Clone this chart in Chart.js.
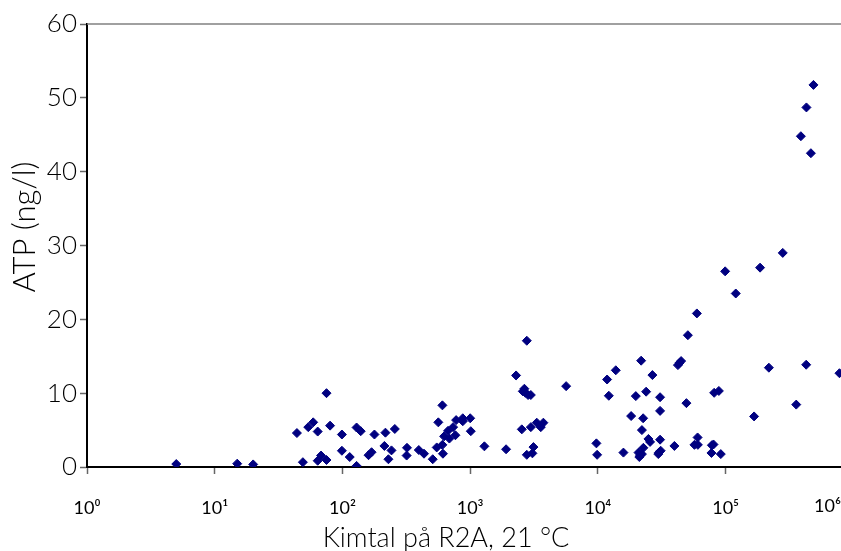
<!DOCTYPE html>
<html>
<head>
<meta charset="utf-8">
<title>ATP mot kimtal</title>
<script src="https://cdn.jsdelivr.net/npm/chart.js@4/dist/chart.umd.min.js"></script>
<style>
  html, body { margin: 0; padding: 0; background: #fff; overflow: hidden; }
  canvas { display: block; }
</style>
</head>
<body>
<canvas id="chart" width="841" height="551"></canvas>
<script>
// kimtal (cfu/ml) and ATP (ng/l) per sample
var kimtal = [
    5, 15, 20, 44, 49, 54, 59, 64, 64, 68,
    75, 75, 80, 99, 99, 114, 129, 129, 139, 160,
    169, 178, 217, 213, 229, 242, 257, 320, 318, 396,
    435, 509, 547, 563, 606, 606, 612, 625, 671, 687,
    735, 766, 776, 875, 875, 1000, 1011, 1292, 1910, 2287,
    2775, 2656, 2581, 2706, 2840, 2984, 2535, 2984, 3128, 2775,
    3069, 3320, 3570, 3740, 5640,
    9730, 9860, 11800, 12170, 13800, 15840, 18200, 19800, 21800, 22100,
    22600, 23850, 20800, 21400, 22100, 21100, 22700, 24850, 25600, 26700,
    30670, 30670, 30670, 30000, 31000, 29700, 39700, 42300, 43500, 44800,
    49300, 50600, 59500, 57000, 60600, 60300, 77400, 78000, 80300, 91600,
    81300, 88500,
    99100, 120000, 167000, 186000, 218000, 280000, 357000, 388000, 427000, 429000,
    465000, 487000, 778000
];
var atp = [
    0.4, 0.45, 0.35, 4.6, 0.65, 5.4, 6.05, 4.8, 0.85, 1.55,
    10.0, 0.95, 5.6, 4.4, 2.2, 1.35, 5.35, 0.15, 4.85, 1.6,
    2.0, 4.4, 4.65, 2.85, 1.05, 2.25, 5.15, 2.6, 1.55, 2.3,
    1.8, 1.05, 2.65, 6.05, 8.35, 3.0, 1.8, 4.15, 4.9, 3.85,
    5.4, 4.3, 6.35, 6.6, 6.2, 6.6, 4.85, 2.8, 2.4, 12.4,
    17.1, 10.6, 10.25, 10.05, 9.75, 9.75, 5.1, 5.4, 2.7, 1.65,
    1.85, 6.0, 5.4, 6.0, 10.95,
    3.2, 1.65, 11.85, 9.65, 13.1, 1.95, 6.9, 9.6, 14.4, 5.0,
    6.6, 10.2, 1.95, 1.6, 1.75, 1.35, 2.6, 3.8, 3.4, 12.45,
    9.45, 7.6, 3.7, 1.95, 2.2, 1.75, 2.85, 13.8, 14.1, 14.35,
    8.65, 17.85, 20.8, 3.0, 3.0, 4.0, 1.9, 2.95, 3.05, 1.75,
    10.05, 10.3,
    26.5, 23.5, 6.85, 27.0, 13.45, 29.0, 8.45, 44.8, 13.85, 48.7,
    42.5, 51.75, 12.7
];
var xTicks = [1, 10, 100, 1000, 10000, 100000];
var xMin = 1, xMax = 8.0e5;
var yMin = 0, yMax = 60, yStep = 10;
var xTitle = 'Kimtal på R2A, 21 °C';
var yTitle = 'ATP (ng/l)';

var sup = ['\u2070', '\u00b9', '\u00b2', '\u00b3', '\u2074', '\u2075', '\u2076'];
function powLabel(v) {
    return '10' + sup[Math.round(Math.log10(v))];
}

var points = kimtal.map(function(k, i) {
    return { x: k, y: atp[i] };
});

var FONT = 'Lato, "Open Sans", sans-serif';
var tickFont = { family: FONT, size: 18, weight: 400 };

// top frame line, axis titles and the last decade label at the right edge
var framePlugin = {
    id: 'frame',
    afterDraw: function(chart) {
        var ctx = chart.ctx, a = chart.chartArea;
        ctx.save();
        ctx.strokeStyle = '#808080';
        ctx.lineWidth = 1.5;
        ctx.beginPath();
        ctx.moveTo(a.left, a.top);
        ctx.lineTo(a.right, a.top);
        ctx.stroke();

        ctx.fillStyle = '#000';
        ctx.font = tickFont.weight + ' ' + tickFont.size + 'px ' + FONT;
        ctx.textAlign = 'right';
        ctx.textBaseline = 'top';
        ctx.fillText(powLabel(1e6), chart.width, a.bottom + 30);

        ctx.font = '300 27px ' + FONT;
        ctx.textAlign = 'center';
        ctx.textBaseline = 'alphabetic';
        ctx.fillText(xTitle, 446, 547);

        ctx.translate(35, 227);
        ctx.rotate(-Math.PI / 2);
        ctx.font = '300 31px ' + FONT;
        ctx.fillText(yTitle, 0, 0);
        ctx.restore();
    }
};

var ctx = document.getElementById('chart').getContext('2d');
var chart = new Chart(ctx, {
    type: 'scatter',
    data: {
        datasets: [{
            label: 'ATP',
            data: points,
            pointStyle: 'rectRot',
            pointRadius: 4.5,
            backgroundColor: '#000080',
            borderColor: '#000080',
            borderWidth: 1
        }]
    },
    options: {
        responsive: false,
        animation: false,
        layout: { autoPadding: false, padding: { top: 24, right: 0, left: 0, bottom: 0 } },
        plugins: {
            legend: { display: false },
            tooltip: { enabled: false }
        },
        scales: {
            x: {
                type: 'logarithmic',
                min: xMin,
                max: xMax,
                afterBuildTicks: function(scale) {
                    scale.ticks = xTicks.map(function(v) { return { value: v }; });
                },
                afterFit: function(scale) { scale.height = 84; },
                border: { display: true, color: '#000', width: 2 },
                grid: { drawOnChartArea: false, drawTicks: true, tickLength: 7, tickColor: '#666', tickWidth: 1.5 },
                ticks: {
                    color: '#000',
                    font: tickFont,
                    padding: 23,
                    maxRotation: 0,
                    autoSkip: false,
                    callback: function(v) { return powLabel(v); }
                }
            },
            y: {
                min: yMin,
                max: yMax,
                afterFit: function(scale) { scale.width = 87; },
                border: { display: true, color: '#000', width: 2 },
                grid: { drawOnChartArea: false, drawTicks: true, tickLength: 7, tickColor: '#666', tickWidth: 1.5 },
                ticks: {
                    stepSize: yStep,
                    color: '#000',
                    padding: 3,
                    font: { family: FONT, size: 26, weight: 300 }
                }
            }
        }
    },
    plugins: [framePlugin]
});
</script>
</body>
</html>
